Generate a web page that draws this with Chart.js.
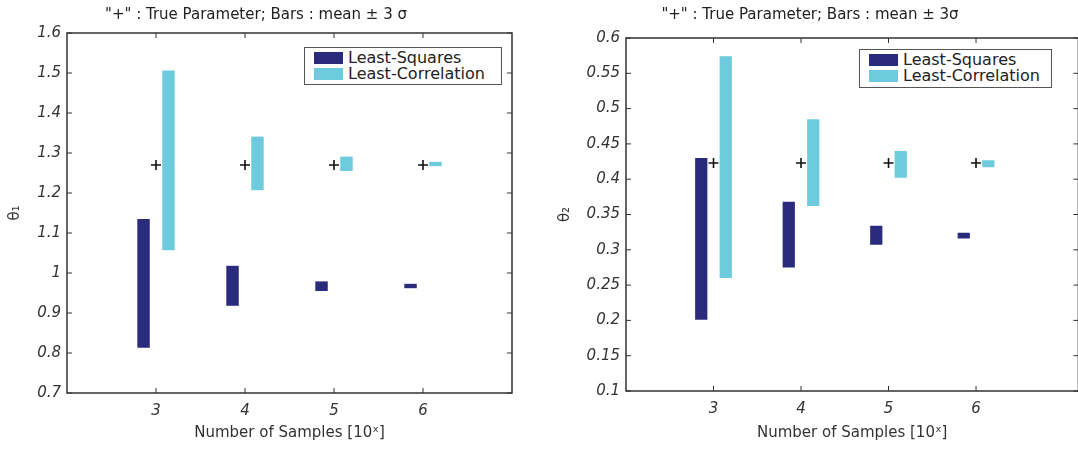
<!DOCTYPE html>
<html><head><meta charset="utf-8">
<script src="https://cdn.jsdelivr.net/npm/chart.js@4.4.0/dist/chart.umd.min.js"></script>
<style>
html,body{margin:0;padding:0;background:#fff;overflow:hidden;width:1078px;height:450px;}
#c1{position:absolute;left:0;top:0;}
#c2{position:absolute;left:540px;top:0;}
.legend{position:absolute;border:1px solid #555;background:#fff;font-family:"DejaVu Sans",sans-serif;font-size:16px;color:#222;box-sizing:border-box;padding:2px 0 0 9px;}
.legend .row{display:flex;align-items:center;height:16px;line-height:16px;white-space:nowrap;}
.legend .sw{width:29px;height:12px;margin-right:5px;flex:none;}
</style></head><body>
<canvas id="c1" width="540" height="450"></canvas>
<canvas id="c2" width="545" height="450"></canvas>
<div class="legend" id="lg1" style="left:304px;top:47px;width:198px;height:38px;"></div>
<div class="legend" id="lg2" style="left:859px;top:49px;width:193px;height:39px;"></div>
<script>
// ---- data ----
const sampleExp = [3, 4, 5, 6];
const seriesNames = ['Least-Squares', 'Least-Correlation'];
const seriesColors = ['#2b2b7e', '#6dcbdd'];
const titles = ['"+" : True Parameter; Bars : mean \u00b1 3 \u03c3', '"+" : True Parameter; Bars : mean \u00b1 3\u03c3'];
const yTitles = ['\u03b8\u2081', '\u03b8\u2082'];
const xTitle = 'Number of Samples [10\u02e3]';
const trueTheta1 = 1.27;
const trueTheta2 = 0.423;
const lsLow1 = [0.813, 0.918, 0.955, 0.962];
const lsHigh1 = [1.135, 1.018, 0.979, 0.973];
const lcLow1 = [1.057, 1.207, 1.255, 1.267];
const lcHigh1 = [1.506, 1.341, 1.291, 1.278];
const lsLow2 = [0.201, 0.275, 0.307, 0.316];
const lsHigh2 = [0.430, 0.368, 0.334, 0.324];
const lcLow2 = [0.260, 0.362, 0.402, 0.417];
const lcHigh2 = [0.574, 0.485, 0.440, 0.427];
const yTicks1 = [0.7, 0.8, 0.9, 1.0, 1.1, 1.2, 1.3, 1.4, 1.5, 1.6];
const yTicks2 = [0.1, 0.15, 0.2, 0.25, 0.3, 0.35, 0.4, 0.45, 0.5, 0.55, 0.6];

const FONT = '"DejaVu Sans", sans-serif';

const frame = {
  id: 'frame',
  afterDatasetsDraw(chart) {
    const {ctx, chartArea: a, scales: {x, y}} = chart;
    ctx.save();
    ctx.strokeStyle = '#333';
    ctx.lineWidth = 1;
    ctx.beginPath();
    y.ticks.forEach(t => {
      const py = y.getPixelForValue(t.value);
      ctx.moveTo(a.left, py); ctx.lineTo(a.left + 5, py);
      ctx.moveTo(a.right, py); ctx.lineTo(a.right - 5, py);
    });
    x.ticks.forEach(t => {
      const px = x.getPixelForValue(t.value);
      ctx.moveTo(px, a.bottom); ctx.lineTo(px, a.bottom - 5);
      ctx.moveTo(px, a.top); ctx.lineTo(px, a.top + 5);
    });
    ctx.stroke();
    ctx.lineWidth = 1.5;
    ctx.strokeRect(a.left, a.top, a.right - a.left, a.bottom - a.top);
    ctx.restore();
  }
};

function makeChart(id, p) {
  const ds = [
    {label: seriesNames[0], data: sampleExp.map((v, i) => ({x: v, y: [p.lsLow[i], p.lsHigh[i]]})),
     backgroundColor: seriesColors[0], borderWidth: 0, categoryPercentage: 0.56, barPercentage: 0.5},
    {label: seriesNames[1], data: sampleExp.map((v, i) => ({x: v, y: [p.lcLow[i], p.lcHigh[i]]})),
     backgroundColor: seriesColors[1], borderWidth: 0, categoryPercentage: 0.56, barPercentage: 0.5},
    {type: 'scatter', label: 'True', data: sampleExp.map(v => ({x: v, y: p.truth})),
     showLine: false, pointStyle: 'cross', pointRadius: 5, borderColor: '#111', borderWidth: 1.6, backgroundColor: '#111'}
  ];
  return new Chart(document.getElementById(id), {
    type: 'bar',
    data: {datasets: ds},
    options: {
      responsive: false, animation: false,
      layout: {padding: {left: 0, right: p.padRight, top: 0, bottom: 0}},
      plugins: {
        legend: {display: false}, tooltip: {enabled: false},
        title: {display: true, text: p.title, color: '#222', font: {family: FONT, size: 15, weight: 'normal', lineHeight: 1.2},
                padding: {top: 6, bottom: p.titleBottom}}
      },
      scales: {
        x: {
          type: 'linear', min: 2, max: p.xMax, offset: false,
          grid: {display: false, drawTicks: false}, border: {display: false},
          afterBuildTicks: s => { s.ticks = sampleExp.map(v => ({value: v})); },
          afterFit: s => { s.height = p.xAxisH; },
          ticks: {color: '#333', padding: p.xTickPad, font: {family: FONT, size: 15, style: 'italic', lineHeight: 1.2}, callback: v => String(v)},
          title: {display: true, text: xTitle, color: '#333', font: {family: FONT, size: 15, lineHeight: 1.2}, padding: {top: 0, bottom: 8}}
        },
        y: {
          type: 'linear', min: p.yTicks[0], max: p.yTicks[p.yTicks.length - 1],
          grid: {display: false, drawTicks: false}, border: {display: false},
          afterBuildTicks: s => { s.ticks = p.yTicks.map(v => ({value: v})); },
          afterFit: s => { s.width = p.yAxisW; },
          ticks: {color: '#333', padding: 6, font: {family: FONT, size: 15, style: 'italic', lineHeight: 1.2}, callback: v => String(+v.toFixed(2))},
          title: {display: true, text: p.yTitle, color: '#333', font: {family: FONT, size: 15, lineHeight: 1.2}, padding: {top: p.yTitlePad, bottom: 0}}
        }
      }
    },
    plugins: [frame]
  });
}

makeChart('c1', {lsLow: lsLow1, lsHigh: lsHigh1, lcLow: lcLow1, lcHigh: lcHigh1, truth: trueTheta1,
  title: titles[0], yTitle: yTitles[0], yTicks: yTicks1, xMax: 7, padRight: 28, titleBottom: 9,
  xAxisH: 57, yAxisW: 67, xTickPad: 8.7, yTitlePad: 6});
makeChart('c2', {lsLow: lsLow2, lsHigh: lsHigh2, lcLow: lcLow2, lcHigh: lcHigh2, truth: trueTheta2,
  title: titles[1], yTitle: yTitles[1], yTicks: yTicks2, xMax: 7.17, padRight: 5, titleBottom: 14,
  xAxisH: 59, yAxisW: 86, xTickPad: 9.3, yTitlePad: 16});

['lg1', 'lg2'].forEach(id => {
  const el = document.getElementById(id);
  seriesNames.forEach((n, i) => {
    const r = document.createElement('div'); r.className = 'row';
    const sw = document.createElement('span'); sw.className = 'sw'; sw.style.background = seriesColors[i];
    const t = document.createElement('span'); t.textContent = n;
    r.appendChild(sw); r.appendChild(t); el.appendChild(r);
  });
});
</script>
</body></html>
